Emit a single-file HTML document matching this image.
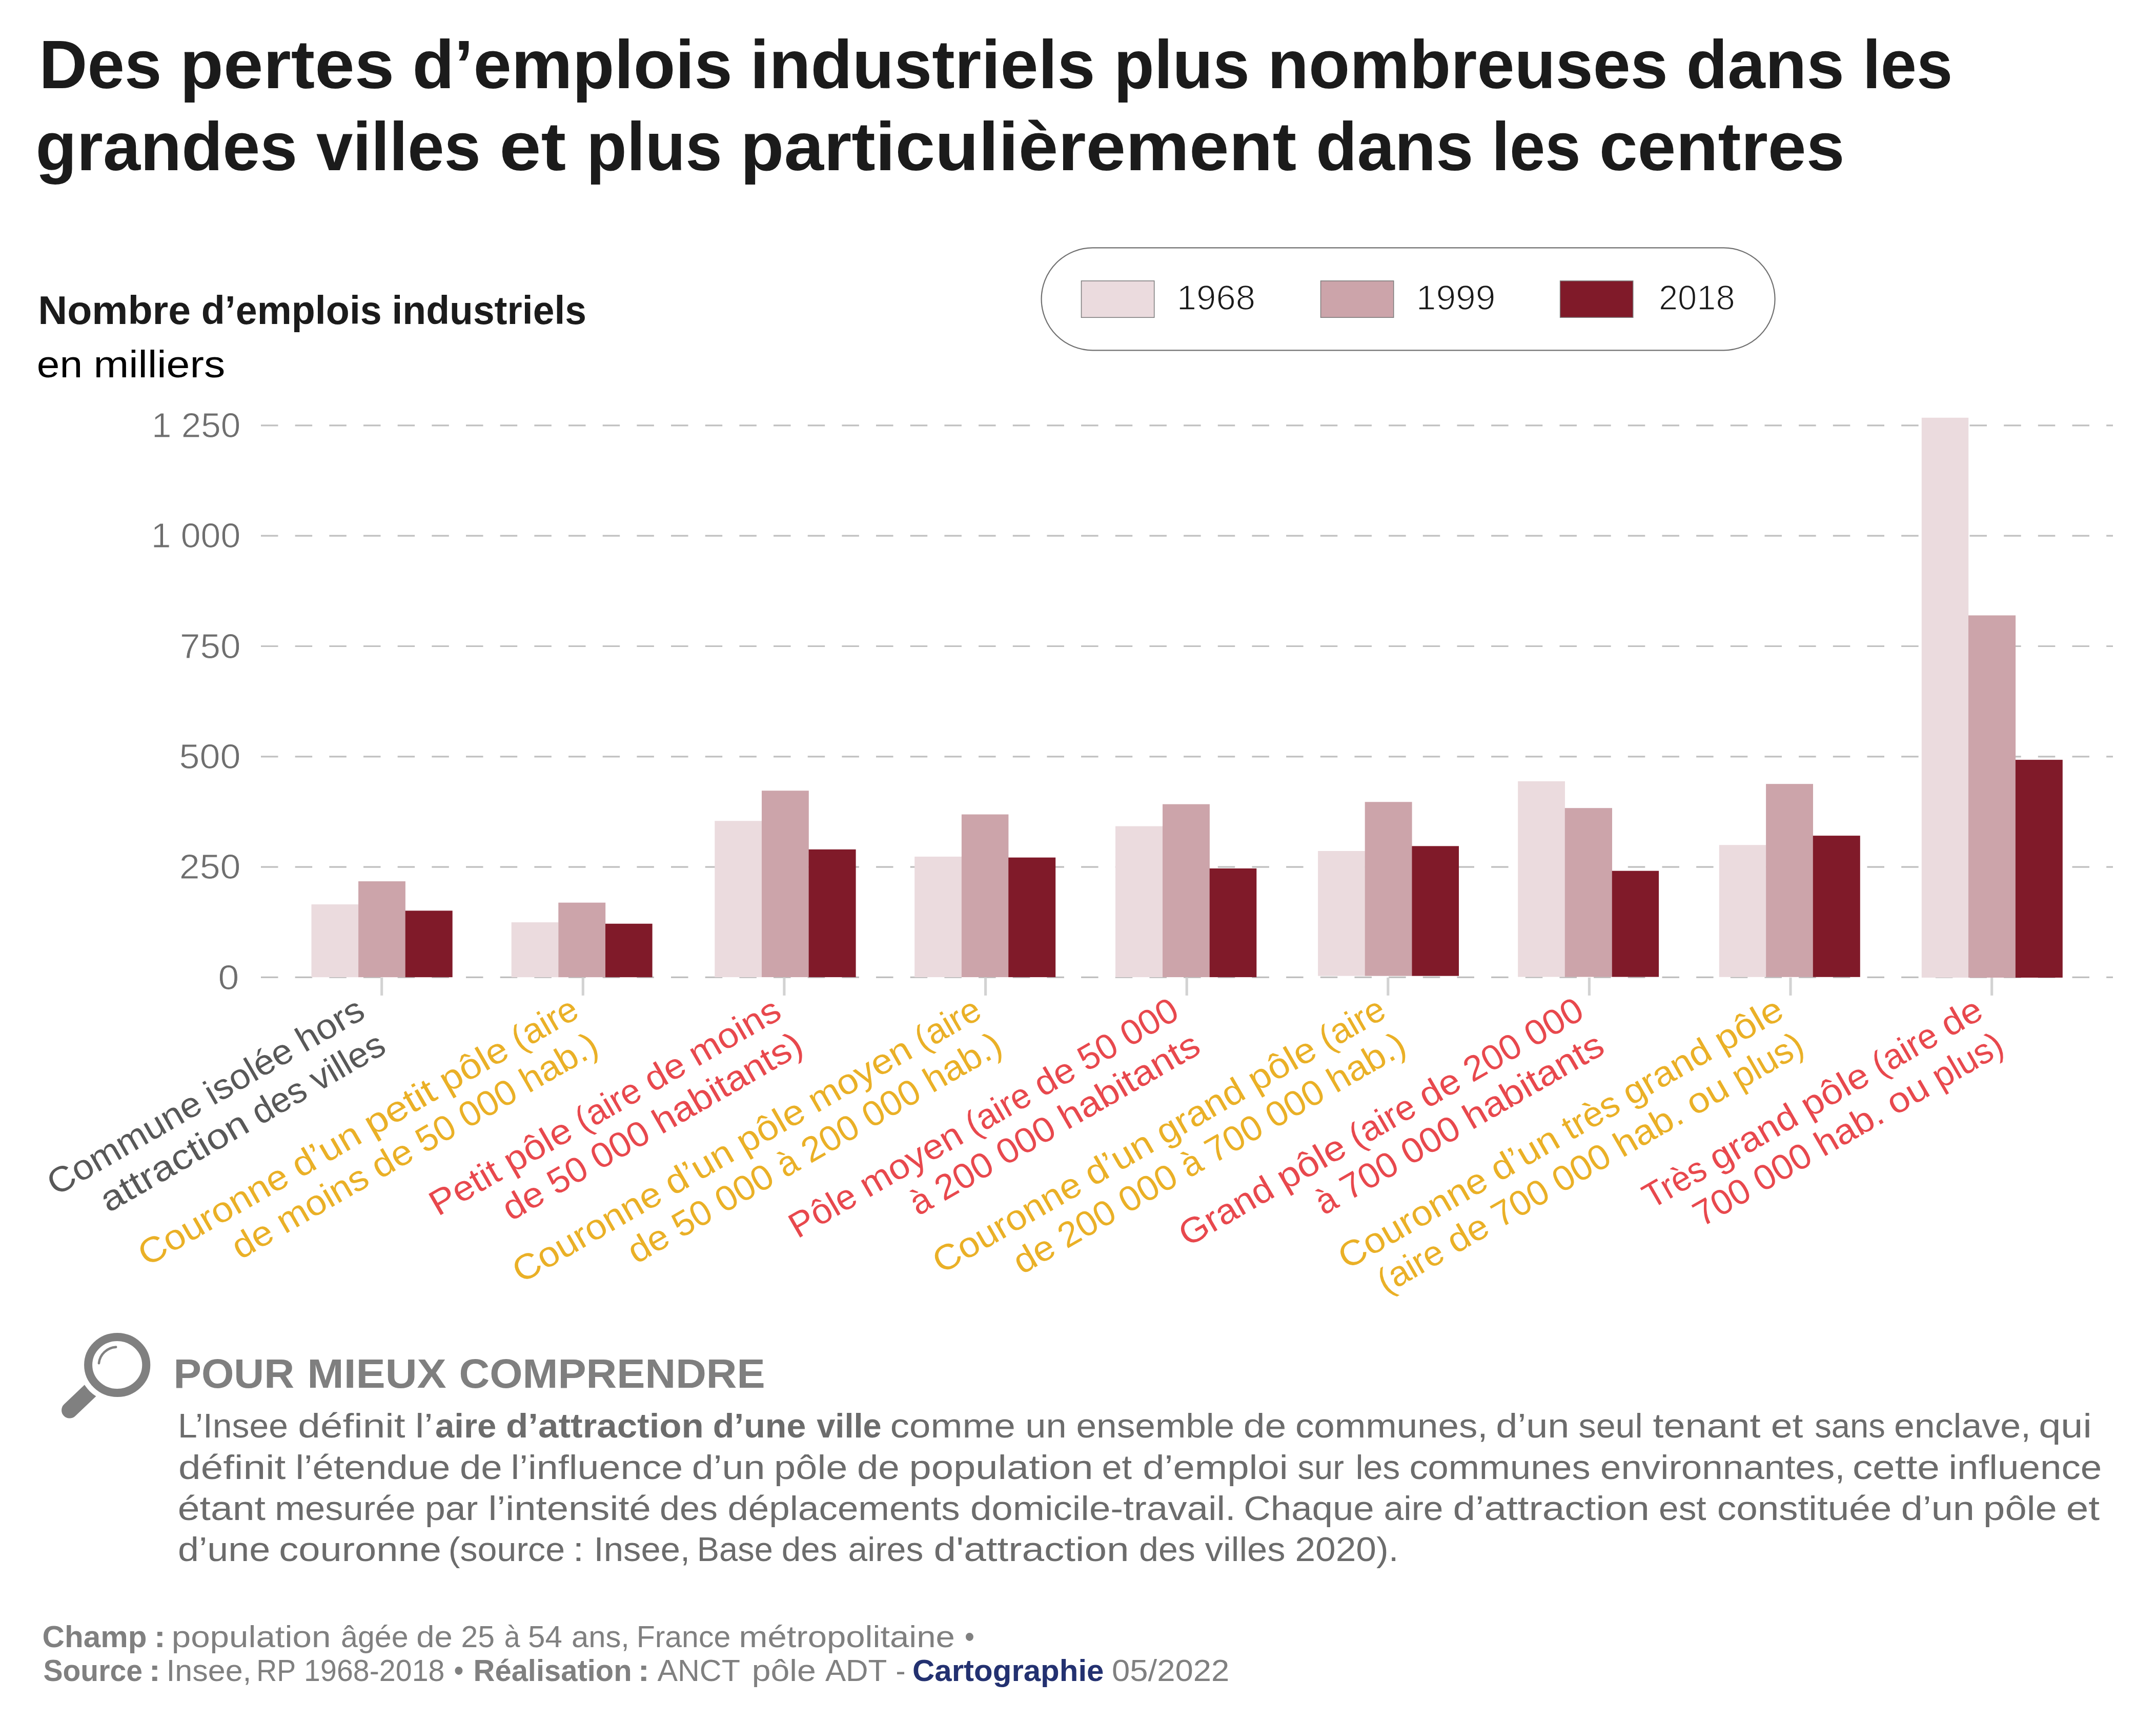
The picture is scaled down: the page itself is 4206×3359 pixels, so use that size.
<!DOCTYPE html>
<html lang="fr"><head><meta charset="utf-8"><title>Des pertes d’emplois industriels</title>
<style>
html,body{margin:0;padding:0;background:#fff;}
body{width:4206px;height:3359px;overflow:hidden;position:relative;font-family:"Liberation Sans", sans-serif;}
svg{position:absolute;left:0;top:0;}
svg text{font-family:"Liberation Sans", sans-serif;white-space:pre;}
</style></head><body>
<svg width="4206" height="3359" viewBox="0 0 4206 3359">
<rect width="4206" height="3359" fill="#ffffff"/>
<line x1="509.0" x2="4122.0" y1="1906.40" y2="1906.40" stroke="#c0c0c0" stroke-width="3.2" stroke-dasharray="33.5 33.17"/>
<line x1="509.0" x2="4122.0" y1="1691.10" y2="1691.10" stroke="#c0c0c0" stroke-width="3.2" stroke-dasharray="33.5 33.17"/>
<line x1="509.0" x2="4122.0" y1="1475.80" y2="1475.80" stroke="#c0c0c0" stroke-width="3.2" stroke-dasharray="33.5 33.17"/>
<line x1="509.0" x2="4122.0" y1="1260.50" y2="1260.50" stroke="#c0c0c0" stroke-width="3.2" stroke-dasharray="33.5 33.17"/>
<line x1="509.0" x2="4122.0" y1="1045.20" y2="1045.20" stroke="#c0c0c0" stroke-width="3.2" stroke-dasharray="33.5 33.17"/>
<line x1="509.0" x2="4122.0" y1="829.90" y2="829.90" stroke="#c0c0c0" stroke-width="3.2" stroke-dasharray="33.5 33.17"/>
<text x="425.6" y="1929.6" font-size="69" font-weight="400" fill="#6e6e6e" text-anchor="start" textLength="40.8" lengthAdjust="spacingAndGlyphs" stroke="#fff" stroke-width="0.9">0</text>
<text x="349.8" y="1714.3" font-size="69" font-weight="400" fill="#6e6e6e" text-anchor="start" textLength="119.6" lengthAdjust="spacingAndGlyphs" stroke="#fff" stroke-width="0.9">250</text>
<text x="349.6" y="1499.0" font-size="69" font-weight="400" fill="#6e6e6e" text-anchor="start" textLength="119.8" lengthAdjust="spacingAndGlyphs" stroke="#fff" stroke-width="0.9">500</text>
<text x="351.0" y="1283.7" font-size="69" font-weight="400" fill="#6e6e6e" text-anchor="start" textLength="118.4" lengthAdjust="spacingAndGlyphs" stroke="#fff" stroke-width="0.9">750</text>
<text x="294.7" y="1068.4" font-size="69" font-weight="400" fill="#6e6e6e" text-anchor="start" textLength="174.5" lengthAdjust="spacingAndGlyphs" stroke="#fff" stroke-width="0.9">1 000</text>
<text x="296.0" y="853.1" font-size="69" font-weight="400" fill="#6e6e6e" text-anchor="start" textLength="173.2" lengthAdjust="spacingAndGlyphs" stroke="#fff" stroke-width="0.9">1 250</text>
<line x1="744.7" x2="744.7" y1="1906.8" y2="1941.9" stroke="#d2d2d2" stroke-width="5.1"/>
<line x1="1137.3" x2="1137.3" y1="1906.8" y2="1941.9" stroke="#d2d2d2" stroke-width="5.1"/>
<line x1="1529.9" x2="1529.9" y1="1906.8" y2="1941.9" stroke="#d2d2d2" stroke-width="5.1"/>
<line x1="1922.6" x2="1922.6" y1="1906.8" y2="1941.9" stroke="#d2d2d2" stroke-width="5.1"/>
<line x1="2315.2" x2="2315.2" y1="1906.8" y2="1941.9" stroke="#d2d2d2" stroke-width="5.1"/>
<line x1="2707.8" x2="2707.8" y1="1906.8" y2="1941.9" stroke="#d2d2d2" stroke-width="5.1"/>
<line x1="3100.4" x2="3100.4" y1="1906.8" y2="1941.9" stroke="#d2d2d2" stroke-width="5.1"/>
<line x1="3493.0" x2="3493.0" y1="1906.8" y2="1941.9" stroke="#d2d2d2" stroke-width="5.1"/>
<line x1="3885.7" x2="3885.7" y1="1906.8" y2="1941.9" stroke="#d2d2d2" stroke-width="5.1"/>
<rect x="607.5" y="1764.1" width="91.8" height="142.1" fill="#ebdbde"/>
<rect x="699.1" y="1719.1" width="91.8" height="187.1" fill="#cca4aa"/>
<rect x="790.7" y="1776.4" width="92.0" height="129.8" fill="#801a29"/>
<rect x="997.7" y="1799.1" width="91.8" height="107.1" fill="#ebdbde"/>
<rect x="1089.3" y="1760.7" width="91.9" height="145.5" fill="#cca4aa"/>
<rect x="1181.0" y="1801.8" width="91.6" height="104.4" fill="#801a29"/>
<rect x="1394.3" y="1601.3" width="91.9" height="304.8" fill="#ebdbde"/>
<rect x="1486.0" y="1542.3" width="91.8" height="363.8" fill="#cca4aa"/>
<rect x="1577.6" y="1656.9" width="92.0" height="249.2" fill="#801a29"/>
<rect x="1784.2" y="1671.0" width="91.9" height="235.1" fill="#ebdbde"/>
<rect x="1875.9" y="1588.6" width="91.5" height="317.5" fill="#cca4aa"/>
<rect x="1967.2" y="1672.7" width="92.0" height="233.4" fill="#801a29"/>
<rect x="2176.0" y="1611.6" width="92.2" height="294.5" fill="#ebdbde"/>
<rect x="2268.0" y="1568.7" width="91.9" height="337.4" fill="#cca4aa"/>
<rect x="2359.7" y="1694.0" width="91.6" height="212.1" fill="#801a29"/>
<rect x="2571.1" y="1660.0" width="91.8" height="243.7" fill="#ebdbde"/>
<rect x="2662.7" y="1564.3" width="91.9" height="339.4" fill="#cca4aa"/>
<rect x="2754.4" y="1650.4" width="91.6" height="253.3" fill="#801a29"/>
<rect x="2961.2" y="1524.0" width="91.8" height="381.6" fill="#ebdbde"/>
<rect x="3052.8" y="1576.2" width="92.2" height="329.4" fill="#cca4aa"/>
<rect x="3144.8" y="1698.7" width="91.3" height="206.9" fill="#801a29"/>
<rect x="3353.8" y="1648.3" width="91.5" height="257.5" fill="#ebdbde"/>
<rect x="3445.1" y="1529.2" width="91.9" height="376.6" fill="#cca4aa"/>
<rect x="3536.8" y="1630.1" width="92.0" height="275.7" fill="#801a29"/>
<rect x="3748.8" y="814.8" width="91.4" height="1092.2" fill="#ebdbde"/>
<rect x="3840.0" y="1200.4" width="92.1" height="706.6" fill="#cca4aa"/>
<rect x="3931.9" y="1482.1" width="91.9" height="424.9" fill="#801a29"/>
<g transform="translate(716.1 1983.4) rotate(-30)" font-size="69" fill="#585858"><text x="-700.9" y="0" textLength="334.9" lengthAdjust="spacingAndGlyphs">Commune</text><text x="-347.0" y="0" textLength="187.4" lengthAdjust="spacingAndGlyphs">isolée</text><text x="-140.6" y="0" textLength="140.6" lengthAdjust="spacingAndGlyphs">hors</text></g>
<g transform="translate(756.8 2051.6) rotate(-30)" font-size="69" fill="#585858"><text x="-629.3" y="0" textLength="322.2" lengthAdjust="spacingAndGlyphs">attraction</text><text x="-287.9" y="0" textLength="111.5" lengthAdjust="spacingAndGlyphs">des</text><text x="-157.3" y="0" textLength="157.3" lengthAdjust="spacingAndGlyphs">villes</text></g>
<g transform="translate(1133.5 1982.4) rotate(-30)" font-size="69" fill="#eab026"><text x="-978.0" y="0" textLength="326.0" lengthAdjust="spacingAndGlyphs">Couronne</text><text x="-632.8" y="0" textLength="143.8" lengthAdjust="spacingAndGlyphs">d’un</text><text x="-469.9" y="0" textLength="150.1" lengthAdjust="spacingAndGlyphs">petit</text><text x="-300.6" y="0" textLength="143.6" lengthAdjust="spacingAndGlyphs">pôle</text><text x="-137.9" y="0" textLength="137.9" lengthAdjust="spacingAndGlyphs">(aire</text></g>
<g transform="translate(1172.2 2051.8) rotate(-30)" font-size="69" fill="#eab026"><text x="-812.3" y="0" textLength="81.5" lengthAdjust="spacingAndGlyphs">de</text><text x="-711.8" y="0" textLength="194.9" lengthAdjust="spacingAndGlyphs">moins</text><text x="-497.8" y="0" textLength="81.5" lengthAdjust="spacingAndGlyphs">de</text><text x="-397.3" y="0" textLength="77.5" lengthAdjust="spacingAndGlyphs">50</text><text x="-300.8" y="0" textLength="118.8" lengthAdjust="spacingAndGlyphs">000</text><text x="-163.0" y="0" textLength="163.0" lengthAdjust="spacingAndGlyphs">hab.)</text></g>
<g transform="translate(1528.5 1984.2) rotate(-30)" font-size="69" fill="#e8484d"><text x="-778.3" y="0" textLength="147.6" lengthAdjust="spacingAndGlyphs">Petit</text><text x="-611.7" y="0" textLength="142.3" lengthAdjust="spacingAndGlyphs">pôle</text><text x="-450.4" y="0" textLength="136.6" lengthAdjust="spacingAndGlyphs">(aire</text><text x="-294.8" y="0" textLength="81.3" lengthAdjust="spacingAndGlyphs">de</text><text x="-194.6" y="0" textLength="194.6" lengthAdjust="spacingAndGlyphs">moins</text></g>
<g transform="translate(1571.2 2051.3) rotate(-30)" font-size="69" fill="#e8484d"><text x="-663.4" y="0" textLength="82.4" lengthAdjust="spacingAndGlyphs">de</text><text x="-561.7" y="0" textLength="78.4" lengthAdjust="spacingAndGlyphs">50</text><text x="-464.0" y="0" textLength="120.2" lengthAdjust="spacingAndGlyphs">000</text><text x="-324.6" y="0" textLength="324.6" lengthAdjust="spacingAndGlyphs">habitants)</text></g>
<g transform="translate(1919.2 1983.2) rotate(-30)" font-size="69" fill="#eab026"><text x="-1042.1" y="0" textLength="323.2" lengthAdjust="spacingAndGlyphs">Couronne</text><text x="-699.9" y="0" textLength="142.5" lengthAdjust="spacingAndGlyphs">d’un</text><text x="-538.4" y="0" textLength="142.3" lengthAdjust="spacingAndGlyphs">pôle</text><text x="-377.1" y="0" textLength="221.4" lengthAdjust="spacingAndGlyphs">moyen</text><text x="-136.7" y="0" textLength="136.7" lengthAdjust="spacingAndGlyphs">(aire</text></g>
<g transform="translate(1959.9 2051.3) rotate(-30)" font-size="69" fill="#eab026"><text x="-830.2" y="0" textLength="81.7" lengthAdjust="spacingAndGlyphs">de</text><text x="-729.5" y="0" textLength="77.7" lengthAdjust="spacingAndGlyphs">50</text><text x="-632.6" y="0" textLength="119.1" lengthAdjust="spacingAndGlyphs">000</text><text x="-494.5" y="0" textLength="37.3" lengthAdjust="spacingAndGlyphs">à</text><text x="-438.1" y="0" textLength="117.4" lengthAdjust="spacingAndGlyphs">200</text><text x="-301.6" y="0" textLength="119.1" lengthAdjust="spacingAndGlyphs">000</text><text x="-163.4" y="0" textLength="163.4" lengthAdjust="spacingAndGlyphs">hab.)</text></g>
<g transform="translate(2304.5 1984.5) rotate(-30)" font-size="69" fill="#e8484d"><text x="-864.3" y="0" textLength="140.1" lengthAdjust="spacingAndGlyphs">Pôle</text><text x="-705.4" y="0" textLength="219.5" lengthAdjust="spacingAndGlyphs">moyen</text><text x="-467.0" y="0" textLength="135.5" lengthAdjust="spacingAndGlyphs">(aire</text><text x="-312.7" y="0" textLength="80.7" lengthAdjust="spacingAndGlyphs">de</text><text x="-213.2" y="0" textLength="76.8" lengthAdjust="spacingAndGlyphs">50</text><text x="-117.6" y="0" textLength="117.6" lengthAdjust="spacingAndGlyphs">000</text></g>
<g transform="translate(2346.3 2052.1) rotate(-30)" font-size="69" fill="#e8484d"><text x="-640.9" y="0" textLength="37.8" lengthAdjust="spacingAndGlyphs">à</text><text x="-583.8" y="0" textLength="119.0" lengthAdjust="spacingAndGlyphs">200</text><text x="-445.5" y="0" textLength="120.7" lengthAdjust="spacingAndGlyphs">000</text><text x="-305.5" y="0" textLength="305.5" lengthAdjust="spacingAndGlyphs">habitants</text></g>
<g transform="translate(2708.1 1982.6) rotate(-30)" font-size="69" fill="#eab026"><text x="-1006.3" y="0" textLength="322.4" lengthAdjust="spacingAndGlyphs">Couronne</text><text x="-664.9" y="0" textLength="142.2" lengthAdjust="spacingAndGlyphs">d’un</text><text x="-503.8" y="0" textLength="187.5" lengthAdjust="spacingAndGlyphs">grand</text><text x="-297.3" y="0" textLength="142.0" lengthAdjust="spacingAndGlyphs">pôle</text><text x="-136.3" y="0" textLength="136.3" lengthAdjust="spacingAndGlyphs">(aire</text></g>
<g transform="translate(2747.8 2051.3) rotate(-30)" font-size="69" fill="#eab026"><text x="-871.2" y="0" textLength="81.9" lengthAdjust="spacingAndGlyphs">de</text><text x="-770.2" y="0" textLength="117.7" lengthAdjust="spacingAndGlyphs">200</text><text x="-633.4" y="0" textLength="119.4" lengthAdjust="spacingAndGlyphs">000</text><text x="-494.9" y="0" textLength="37.4" lengthAdjust="spacingAndGlyphs">à</text><text x="-438.4" y="0" textLength="117.0" lengthAdjust="spacingAndGlyphs">700</text><text x="-302.3" y="0" textLength="119.4" lengthAdjust="spacingAndGlyphs">000</text><text x="-163.8" y="0" textLength="163.8" lengthAdjust="spacingAndGlyphs">hab.)</text></g>
<g transform="translate(3094.7 1983.8) rotate(-30)" font-size="69" fill="#e8484d"><text x="-898.4" y="0" textLength="200.6" lengthAdjust="spacingAndGlyphs">Grand</text><text x="-678.5" y="0" textLength="143.8" lengthAdjust="spacingAndGlyphs">pôle</text><text x="-515.6" y="0" textLength="138.0" lengthAdjust="spacingAndGlyphs">(aire</text><text x="-358.4" y="0" textLength="82.2" lengthAdjust="spacingAndGlyphs">de</text><text x="-257.1" y="0" textLength="118.1" lengthAdjust="spacingAndGlyphs">200</text><text x="-119.8" y="0" textLength="119.8" lengthAdjust="spacingAndGlyphs">000</text></g>
<g transform="translate(3134.4 2052.6) rotate(-30)" font-size="69" fill="#e8484d"><text x="-637.4" y="0" textLength="37.6" lengthAdjust="spacingAndGlyphs">à</text><text x="-580.5" y="0" textLength="117.8" lengthAdjust="spacingAndGlyphs">700</text><text x="-443.5" y="0" textLength="120.1" lengthAdjust="spacingAndGlyphs">000</text><text x="-304.1" y="0" textLength="304.1" lengthAdjust="spacingAndGlyphs">habitants</text></g>
<g transform="translate(3484.2 1982.9) rotate(-30)" font-size="69" fill="#eab026"><text x="-989.0" y="0" textLength="323.2" lengthAdjust="spacingAndGlyphs">Couronne</text><text x="-646.8" y="0" textLength="142.5" lengthAdjust="spacingAndGlyphs">d’un</text><text x="-485.2" y="0" textLength="117.0" lengthAdjust="spacingAndGlyphs">très</text><text x="-349.3" y="0" textLength="188.0" lengthAdjust="spacingAndGlyphs">grand</text><text x="-142.3" y="0" textLength="142.3" lengthAdjust="spacingAndGlyphs">pôle</text></g>
<g transform="translate(3523.9 2051.6) rotate(-30)" font-size="69" fill="#eab026"><text x="-946.9" y="0" textLength="137.5" lengthAdjust="spacingAndGlyphs">(aire</text><text x="-790.2" y="0" textLength="81.9" lengthAdjust="spacingAndGlyphs">de</text><text x="-689.2" y="0" textLength="117.0" lengthAdjust="spacingAndGlyphs">700</text><text x="-553.1" y="0" textLength="119.4" lengthAdjust="spacingAndGlyphs">000</text><text x="-414.6" y="0" textLength="143.5" lengthAdjust="spacingAndGlyphs">hab.</text><text x="-252.0" y="0" textLength="84.0" lengthAdjust="spacingAndGlyphs">ou</text><text x="-148.8" y="0" textLength="148.8" lengthAdjust="spacingAndGlyphs">plus)</text></g>
<g transform="translate(3873.0 1983.4) rotate(-30)" font-size="69" fill="#e8484d"><text x="-751.7" y="0" textLength="130.0" lengthAdjust="spacingAndGlyphs">Très</text><text x="-602.8" y="0" textLength="187.2" lengthAdjust="spacingAndGlyphs">grand</text><text x="-396.7" y="0" textLength="141.8" lengthAdjust="spacingAndGlyphs">pôle</text><text x="-236.0" y="0" textLength="136.1" lengthAdjust="spacingAndGlyphs">(aire</text><text x="-81.0" y="0" textLength="81.0" lengthAdjust="spacingAndGlyphs">de</text></g>
<g transform="translate(3913.8 2051.5) rotate(-30)" font-size="69" fill="#e8484d"><text x="-685.3" y="0" textLength="116.4" lengthAdjust="spacingAndGlyphs">700</text><text x="-550.0" y="0" textLength="118.7" lengthAdjust="spacingAndGlyphs">000</text><text x="-412.2" y="0" textLength="142.7" lengthAdjust="spacingAndGlyphs">hab.</text><text x="-250.5" y="0" textLength="83.6" lengthAdjust="spacingAndGlyphs">ou</text><text x="-147.9" y="0" textLength="147.9" lengthAdjust="spacingAndGlyphs">plus)</text></g>
<rect x="2031.6" y="483.4" width="1431" height="199.9" rx="99.95" ry="99.95" fill="#fff" stroke="#707070" stroke-width="2.2"/>
<rect x="2109.5" y="547.9" width="142.2" height="71.4" fill="#ebdbde" stroke="#7a7a7a" stroke-width="1.5"/>
<text x="2295.8" y="603.6" font-size="69" font-weight="400" fill="#1a1a1a" text-anchor="start" textLength="153.2" lengthAdjust="spacingAndGlyphs" stroke="#fff" stroke-width="1.6">1968</text>
<rect x="2576.5" y="547.9" width="142.2" height="71.4" fill="#cca4aa" stroke="#7a7a7a" stroke-width="1.5"/>
<text x="2762.7" y="603.6" font-size="69" font-weight="400" fill="#1a1a1a" text-anchor="start" textLength="154.8" lengthAdjust="spacingAndGlyphs" stroke="#fff" stroke-width="1.6">1999</text>
<rect x="3043.6" y="547.9" width="142.2" height="71.4" fill="#801a29" stroke="#7a7a7a" stroke-width="1.5"/>
<text x="3235.9" y="603.6" font-size="69" font-weight="400" fill="#1a1a1a" text-anchor="start" textLength="148.9" lengthAdjust="spacingAndGlyphs" stroke="#fff" stroke-width="1.6">2018</text>
<g stroke="#808080" fill="none"><path d="M135.9 2750.8 L228.7 2662.5" stroke-width="31.6" stroke-linecap="round"/><ellipse cx="228.7" cy="2662.5" rx="75.3" ry="73.1" fill="#fff" stroke="none"/><ellipse cx="228.7" cy="2662.5" rx="56.6" ry="54.55" stroke-width="16"/><path d="M192.9 2659.3 A35.6 35.2 0 0 1 226.2 2627.6" stroke-width="4.6" stroke-linecap="round"/></g>
<text x="76.3" y="171.5" font-size="134" font-weight="700" fill="#1b1b1b" text-anchor="start" textLength="239.1" lengthAdjust="spacingAndGlyphs">Des</text>
<text x="350.8" y="171.5" font-size="134" font-weight="700" fill="#1b1b1b" text-anchor="start" textLength="418.4" lengthAdjust="spacingAndGlyphs">pertes</text>
<text x="804.5" y="171.5" font-size="134" font-weight="700" fill="#1b1b1b" text-anchor="start" textLength="624.5" lengthAdjust="spacingAndGlyphs">d’emplois</text>
<text x="1463.2" y="171.5" font-size="134" font-weight="700" fill="#1b1b1b" text-anchor="start" textLength="673.3" lengthAdjust="spacingAndGlyphs">industriels</text>
<text x="2173.0" y="171.5" font-size="134" font-weight="700" fill="#1b1b1b" text-anchor="start" textLength="264.8" lengthAdjust="spacingAndGlyphs">plus</text>
<text x="2472.8" y="171.5" font-size="134" font-weight="700" fill="#1b1b1b" text-anchor="start" textLength="781.0" lengthAdjust="spacingAndGlyphs">nombreuses</text>
<text x="3289.6" y="171.5" font-size="134" font-weight="700" fill="#1b1b1b" text-anchor="start" textLength="308.3" lengthAdjust="spacingAndGlyphs">dans</text>
<text x="3633.7" y="171.5" font-size="134" font-weight="700" fill="#1b1b1b" text-anchor="start" textLength="175.5" lengthAdjust="spacingAndGlyphs">les</text>
<text x="69.6" y="331.5" font-size="134" font-weight="700" fill="#1b1b1b" text-anchor="start" textLength="510.8" lengthAdjust="spacingAndGlyphs">grandes</text>
<text x="617.0" y="331.5" font-size="134" font-weight="700" fill="#1b1b1b" text-anchor="start" textLength="320.8" lengthAdjust="spacingAndGlyphs">villes</text>
<text x="974.3" y="331.5" font-size="134" font-weight="700" fill="#1b1b1b" text-anchor="start" textLength="130.0" lengthAdjust="spacingAndGlyphs">et</text>
<text x="1144.0" y="331.5" font-size="134" font-weight="700" fill="#1b1b1b" text-anchor="start" textLength="264.8" lengthAdjust="spacingAndGlyphs">plus</text>
<text x="1444.3" y="331.5" font-size="134" font-weight="700" fill="#1b1b1b" text-anchor="start" textLength="1084.9" lengthAdjust="spacingAndGlyphs">particulièrement</text>
<text x="2567.1" y="331.5" font-size="134" font-weight="700" fill="#1b1b1b" text-anchor="start" textLength="307.3" lengthAdjust="spacingAndGlyphs">dans</text>
<text x="2910.3" y="331.5" font-size="134" font-weight="700" fill="#1b1b1b" text-anchor="start" textLength="173.3" lengthAdjust="spacingAndGlyphs">les</text>
<text x="3119.7" y="331.5" font-size="134" font-weight="700" fill="#1b1b1b" text-anchor="start" textLength="478.8" lengthAdjust="spacingAndGlyphs">centres</text>
<text x="74.2" y="631.8" font-size="77.3" font-weight="700" fill="#1b1b1b" text-anchor="start" textLength="298.0" lengthAdjust="spacingAndGlyphs">Nombre</text>
<text x="392.8" y="631.8" font-size="77.3" font-weight="700" fill="#1b1b1b" text-anchor="start" textLength="352.0" lengthAdjust="spacingAndGlyphs">d’emplois</text>
<text x="764.5" y="631.8" font-size="77.3" font-weight="700" fill="#1b1b1b" text-anchor="start" textLength="379.5" lengthAdjust="spacingAndGlyphs">industriels</text>
<text x="71.8" y="735.7" font-size="75" font-weight="400" fill="#000" text-anchor="start" textLength="89.3" lengthAdjust="spacingAndGlyphs">en</text>
<text x="182.5" y="735.7" font-size="75" font-weight="400" fill="#000" text-anchor="start" textLength="256.8" lengthAdjust="spacingAndGlyphs">milliers</text>
<text x="338.5" y="2707.3" font-size="80" font-weight="700" fill="#7f7f7f" text-anchor="start" textLength="235.6" lengthAdjust="spacingAndGlyphs">POUR</text>
<text x="599.3" y="2707.3" font-size="80" font-weight="700" fill="#7f7f7f" text-anchor="start" textLength="271.5" lengthAdjust="spacingAndGlyphs">MIEUX</text>
<text x="895.6" y="2707.3" font-size="80" font-weight="700" fill="#7f7f7f" text-anchor="start" textLength="597.1" lengthAdjust="spacingAndGlyphs">COMPRENDRE</text>
<text x="347.0" y="2804.4" font-size="67" font-weight="400" fill="#6c6c6c" text-anchor="start" textLength="214.9" lengthAdjust="spacingAndGlyphs">L’Insee</text>
<text x="581.3" y="2804.4" font-size="67" font-weight="400" fill="#6c6c6c" text-anchor="start" textLength="209.2" lengthAdjust="spacingAndGlyphs">définit</text>
<text x="809.9" y="2804.4" font-size="67" font-weight="400" fill="#6c6c6c" text-anchor="start" textLength="34.8" lengthAdjust="spacingAndGlyphs">l’</text>
<text x="849.0" y="2804.4" font-size="67" font-weight="700" fill="#6c6c6c" text-anchor="start" textLength="119.3" lengthAdjust="spacingAndGlyphs">aire</text>
<text x="987.1" y="2804.4" font-size="67" font-weight="700" fill="#6c6c6c" text-anchor="start" textLength="385.8" lengthAdjust="spacingAndGlyphs">d’attraction</text>
<text x="1390.7" y="2804.4" font-size="67" font-weight="700" fill="#6c6c6c" text-anchor="start" textLength="181.6" lengthAdjust="spacingAndGlyphs">d’une</text>
<text x="1593.2" y="2804.4" font-size="67" font-weight="700" fill="#6c6c6c" text-anchor="start" textLength="126.5" lengthAdjust="spacingAndGlyphs">ville</text>
<text x="1736.8" y="2804.4" font-size="67" font-weight="400" fill="#6c6c6c" text-anchor="start" textLength="244.0" lengthAdjust="spacingAndGlyphs">comme</text>
<text x="2000.3" y="2804.4" font-size="67" font-weight="400" fill="#6c6c6c" text-anchor="start" textLength="80.4" lengthAdjust="spacingAndGlyphs">un</text>
<text x="2099.5" y="2804.4" font-size="67" font-weight="400" fill="#6c6c6c" text-anchor="start" textLength="308.7" lengthAdjust="spacingAndGlyphs">ensemble</text>
<text x="2425.8" y="2804.4" font-size="67" font-weight="400" fill="#6c6c6c" text-anchor="start" textLength="83.5" lengthAdjust="spacingAndGlyphs">de</text>
<text x="2526.9" y="2804.4" font-size="67" font-weight="400" fill="#6c6c6c" text-anchor="start" textLength="375.6" lengthAdjust="spacingAndGlyphs">communes,</text>
<text x="2918.3" y="2804.4" font-size="67" font-weight="400" fill="#6c6c6c" text-anchor="start" textLength="143.1" lengthAdjust="spacingAndGlyphs">d’un</text>
<text x="3079.6" y="2804.4" font-size="67" font-weight="400" fill="#6c6c6c" text-anchor="start" textLength="125.0" lengthAdjust="spacingAndGlyphs">seul</text>
<text x="3224.4" y="2804.4" font-size="67" font-weight="400" fill="#6c6c6c" text-anchor="start" textLength="210.2" lengthAdjust="spacingAndGlyphs">tenant</text>
<text x="3454.8" y="2804.4" font-size="67" font-weight="400" fill="#6c6c6c" text-anchor="start" textLength="62.7" lengthAdjust="spacingAndGlyphs">et</text>
<text x="3540.2" y="2804.4" font-size="67" font-weight="400" fill="#6c6c6c" text-anchor="start" textLength="137.7" lengthAdjust="spacingAndGlyphs">sans</text>
<text x="3695.0" y="2804.4" font-size="67" font-weight="400" fill="#6c6c6c" text-anchor="start" textLength="267.0" lengthAdjust="spacingAndGlyphs">enclave,</text>
<text x="3977.2" y="2804.4" font-size="67" font-weight="400" fill="#6c6c6c" text-anchor="start" textLength="103.5" lengthAdjust="spacingAndGlyphs">qui</text>
<text x="348.1" y="2884.7" font-size="67" font-weight="400" fill="#6c6c6c" text-anchor="start" textLength="209.2" lengthAdjust="spacingAndGlyphs">définit</text>
<text x="576.5" y="2884.7" font-size="67" font-weight="400" fill="#6c6c6c" text-anchor="start" textLength="301.8" lengthAdjust="spacingAndGlyphs">l’étendue</text>
<text x="896.9" y="2884.7" font-size="67" font-weight="400" fill="#6c6c6c" text-anchor="start" textLength="82.9" lengthAdjust="spacingAndGlyphs">de</text>
<text x="996.4" y="2884.7" font-size="67" font-weight="400" fill="#6c6c6c" text-anchor="start" textLength="335.9" lengthAdjust="spacingAndGlyphs">l’influence</text>
<text x="1349.8" y="2884.7" font-size="67" font-weight="400" fill="#6c6c6c" text-anchor="start" textLength="142.6" lengthAdjust="spacingAndGlyphs">d’un</text>
<text x="1510.1" y="2884.7" font-size="67" font-weight="400" fill="#6c6c6c" text-anchor="start" textLength="143.3" lengthAdjust="spacingAndGlyphs">pôle</text>
<text x="1671.9" y="2884.7" font-size="67" font-weight="400" fill="#6c6c6c" text-anchor="start" textLength="82.9" lengthAdjust="spacingAndGlyphs">de</text>
<text x="1773.5" y="2884.7" font-size="67" font-weight="400" fill="#6c6c6c" text-anchor="start" textLength="359.1" lengthAdjust="spacingAndGlyphs">population</text>
<text x="2149.5" y="2884.7" font-size="67" font-weight="400" fill="#6c6c6c" text-anchor="start" textLength="58.5" lengthAdjust="spacingAndGlyphs">et</text>
<text x="2229.3" y="2884.7" font-size="67" font-weight="400" fill="#6c6c6c" text-anchor="start" textLength="283.3" lengthAdjust="spacingAndGlyphs">d’emploi</text>
<text x="2531.5" y="2884.7" font-size="67" font-weight="400" fill="#6c6c6c" text-anchor="start" textLength="90.3" lengthAdjust="spacingAndGlyphs">sur</text>
<text x="2644.4" y="2884.7" font-size="67" font-weight="400" fill="#6c6c6c" text-anchor="start" textLength="87.0" lengthAdjust="spacingAndGlyphs">les</text>
<text x="2749.4" y="2884.7" font-size="67" font-weight="400" fill="#6c6c6c" text-anchor="start" textLength="353.2" lengthAdjust="spacingAndGlyphs">communes</text>
<text x="3121.9" y="2884.7" font-size="67" font-weight="400" fill="#6c6c6c" text-anchor="start" textLength="477.6" lengthAdjust="spacingAndGlyphs">environnantes,</text>
<text x="3613.9" y="2884.7" font-size="67" font-weight="400" fill="#6c6c6c" text-anchor="start" textLength="169.9" lengthAdjust="spacingAndGlyphs">cette</text>
<text x="3801.5" y="2884.7" font-size="67" font-weight="400" fill="#6c6c6c" text-anchor="start" textLength="298.8" lengthAdjust="spacingAndGlyphs">influence</text>
<text x="346.7" y="2965.0" font-size="67" font-weight="400" fill="#6c6c6c" text-anchor="start" textLength="171.3" lengthAdjust="spacingAndGlyphs">étant</text>
<text x="536.3" y="2965.0" font-size="67" font-weight="400" fill="#6c6c6c" text-anchor="start" textLength="274.3" lengthAdjust="spacingAndGlyphs">mesurée</text>
<text x="828.9" y="2965.0" font-size="67" font-weight="400" fill="#6c6c6c" text-anchor="start" textLength="103.3" lengthAdjust="spacingAndGlyphs">par</text>
<text x="952.4" y="2965.0" font-size="67" font-weight="400" fill="#6c6c6c" text-anchor="start" textLength="317.5" lengthAdjust="spacingAndGlyphs">l’intensité</text>
<text x="1287.1" y="2965.0" font-size="67" font-weight="400" fill="#6c6c6c" text-anchor="start" textLength="113.0" lengthAdjust="spacingAndGlyphs">des</text>
<text x="1419.4" y="2965.0" font-size="67" font-weight="400" fill="#6c6c6c" text-anchor="start" textLength="453.2" lengthAdjust="spacingAndGlyphs">déplacements</text>
<text x="1892.9" y="2965.0" font-size="67" font-weight="400" fill="#6c6c6c" text-anchor="start" textLength="517.9" lengthAdjust="spacingAndGlyphs">domicile-travail.</text>
<text x="2426.3" y="2965.0" font-size="67" font-weight="400" fill="#6c6c6c" text-anchor="start" textLength="254.4" lengthAdjust="spacingAndGlyphs">Chaque</text>
<text x="2699.5" y="2965.0" font-size="67" font-weight="400" fill="#6c6c6c" text-anchor="start" textLength="116.0" lengthAdjust="spacingAndGlyphs">aire</text>
<text x="2834.4" y="2965.0" font-size="67" font-weight="400" fill="#6c6c6c" text-anchor="start" textLength="383.5" lengthAdjust="spacingAndGlyphs">d’attraction</text>
<text x="3236.1" y="2965.0" font-size="67" font-weight="400" fill="#6c6c6c" text-anchor="start" textLength="92.5" lengthAdjust="spacingAndGlyphs">est</text>
<text x="3349.8" y="2965.0" font-size="67" font-weight="400" fill="#6c6c6c" text-anchor="start" textLength="340.5" lengthAdjust="spacingAndGlyphs">constituée</text>
<text x="3708.8" y="2965.0" font-size="67" font-weight="400" fill="#6c6c6c" text-anchor="start" textLength="143.1" lengthAdjust="spacingAndGlyphs">d’un</text>
<text x="3869.1" y="2965.0" font-size="67" font-weight="400" fill="#6c6c6c" text-anchor="start" textLength="143.8" lengthAdjust="spacingAndGlyphs">pôle</text>
<text x="4030.7" y="2965.0" font-size="67" font-weight="400" fill="#6c6c6c" text-anchor="start" textLength="65.4" lengthAdjust="spacingAndGlyphs">et</text>
<text x="346.9" y="3045.4" font-size="67" font-weight="400" fill="#6c6c6c" text-anchor="start" textLength="180.4" lengthAdjust="spacingAndGlyphs">d’une</text>
<text x="544.3" y="3045.4" font-size="67" font-weight="400" fill="#6c6c6c" text-anchor="start" textLength="316.6" lengthAdjust="spacingAndGlyphs">couronne</text>
<text x="874.8" y="3045.4" font-size="67" font-weight="400" fill="#6c6c6c" text-anchor="start" textLength="227.3" lengthAdjust="spacingAndGlyphs">(source</text>
<text x="1117.4" y="3045.4" font-size="67" font-weight="400" fill="#6c6c6c" text-anchor="start" textLength="21.8" lengthAdjust="spacingAndGlyphs">:</text>
<text x="1158.6" y="3045.4" font-size="67" font-weight="400" fill="#6c6c6c" text-anchor="start" textLength="187.5" lengthAdjust="spacingAndGlyphs">Insee,</text>
<text x="1359.7" y="3045.4" font-size="67" font-weight="400" fill="#6c6c6c" text-anchor="start" textLength="148.1" lengthAdjust="spacingAndGlyphs">Base</text>
<text x="1524.7" y="3045.4" font-size="67" font-weight="400" fill="#6c6c6c" text-anchor="start" textLength="108.8" lengthAdjust="spacingAndGlyphs">des</text>
<text x="1654.6" y="3045.4" font-size="67" font-weight="400" fill="#6c6c6c" text-anchor="start" textLength="146.8" lengthAdjust="spacingAndGlyphs">aires</text>
<text x="1821.6" y="3045.4" font-size="67" font-weight="400" fill="#6c6c6c" text-anchor="start" textLength="381.0" lengthAdjust="spacingAndGlyphs">d'attraction</text>
<text x="2222.1" y="3045.4" font-size="67" font-weight="400" fill="#6c6c6c" text-anchor="start" textLength="109.8" lengthAdjust="spacingAndGlyphs">des</text>
<text x="2350.8" y="3045.4" font-size="67" font-weight="400" fill="#6c6c6c" text-anchor="start" textLength="156.8" lengthAdjust="spacingAndGlyphs">villes</text>
<text x="2526.4" y="3045.4" font-size="67" font-weight="400" fill="#6c6c6c" text-anchor="start" textLength="202.1" lengthAdjust="spacingAndGlyphs">2020).</text>
<text x="82.5" y="3212.5" font-size="59.5" font-weight="700" fill="#808080" text-anchor="start" textLength="203.9" lengthAdjust="spacingAndGlyphs">Champ</text>
<text x="300.5" y="3212.5" font-size="59.5" font-weight="700" fill="#808080" text-anchor="start" textLength="22.6" lengthAdjust="spacingAndGlyphs">:</text>
<text x="334.7" y="3212.5" font-size="59.5" font-weight="400" fill="#808080" text-anchor="start" textLength="310.7" lengthAdjust="spacingAndGlyphs">population</text>
<text x="665.0" y="3212.5" font-size="59.5" font-weight="400" fill="#808080" text-anchor="start" textLength="131.6" lengthAdjust="spacingAndGlyphs">âgée</text>
<text x="812.3" y="3212.5" font-size="59.5" font-weight="400" fill="#808080" text-anchor="start" textLength="70.5" lengthAdjust="spacingAndGlyphs">de</text>
<text x="899.5" y="3212.5" font-size="59.5" font-weight="400" fill="#808080" text-anchor="start" textLength="65.4" lengthAdjust="spacingAndGlyphs">25</text>
<text x="983.7" y="3212.5" font-size="59.5" font-weight="400" fill="#808080" text-anchor="start" textLength="30.8" lengthAdjust="spacingAndGlyphs">à</text>
<text x="1030.1" y="3212.5" font-size="59.5" font-weight="400" fill="#808080" text-anchor="start" textLength="66.7" lengthAdjust="spacingAndGlyphs">54</text>
<text x="1115.0" y="3212.5" font-size="59.5" font-weight="400" fill="#808080" text-anchor="start" textLength="112.9" lengthAdjust="spacingAndGlyphs">ans,</text>
<text x="1241.7" y="3212.5" font-size="59.5" font-weight="400" fill="#808080" text-anchor="start" textLength="183.5" lengthAdjust="spacingAndGlyphs">France</text>
<text x="1441.5" y="3212.5" font-size="59.5" font-weight="400" fill="#808080" text-anchor="start" textLength="421.4" lengthAdjust="spacingAndGlyphs">métropolitaine</text>
<text x="1881.8" y="3212.5" font-size="59.5" font-weight="400" fill="#808080" text-anchor="start" textLength="19.4" lengthAdjust="spacingAndGlyphs">•</text>
<text x="84.4" y="3279.0" font-size="59.5" font-weight="700" fill="#808080" text-anchor="start" textLength="193.6" lengthAdjust="spacingAndGlyphs">Source</text>
<text x="290.5" y="3279.0" font-size="59.5" font-weight="700" fill="#808080" text-anchor="start" textLength="22.6" lengthAdjust="spacingAndGlyphs">:</text>
<text x="324.4" y="3279.0" font-size="59.5" font-weight="400" fill="#808080" text-anchor="start" textLength="166.1" lengthAdjust="spacingAndGlyphs">Insee,</text>
<text x="500.3" y="3279.0" font-size="59.5" font-weight="400" fill="#808080" text-anchor="start" textLength="76.9" lengthAdjust="spacingAndGlyphs">RP</text>
<text x="593.1" y="3279.0" font-size="59.5" font-weight="400" fill="#808080" text-anchor="start" textLength="274.4" lengthAdjust="spacingAndGlyphs">1968-2018</text>
<text x="885.3" y="3279.0" font-size="59.5" font-weight="400" fill="#808080" text-anchor="start" textLength="19.4" lengthAdjust="spacingAndGlyphs">•</text>
<text x="923.6" y="3279.0" font-size="59.5" font-weight="700" fill="#808080" text-anchor="start" textLength="309.0" lengthAdjust="spacingAndGlyphs">Réalisation</text>
<text x="1244.5" y="3279.0" font-size="59.5" font-weight="700" fill="#808080" text-anchor="start" textLength="22.6" lengthAdjust="spacingAndGlyphs">:</text>
<text x="1282.4" y="3279.0" font-size="59.5" font-weight="400" fill="#808080" text-anchor="start" textLength="161.5" lengthAdjust="spacingAndGlyphs">ANCT</text>
<text x="1466.7" y="3279.0" font-size="59.5" font-weight="400" fill="#808080" text-anchor="start" textLength="125.2" lengthAdjust="spacingAndGlyphs">pôle</text>
<text x="1609.9" y="3279.0" font-size="59.5" font-weight="400" fill="#808080" text-anchor="start" textLength="120.5" lengthAdjust="spacingAndGlyphs">ADT</text>
<text x="1747.5" y="3279.0" font-size="59.5" font-weight="400" fill="#808080" text-anchor="start" textLength="19.1" lengthAdjust="spacingAndGlyphs">-</text>
<text x="1780.0" y="3279.0" font-size="59.5" font-weight="700" fill="#233170" text-anchor="start" textLength="373.5" lengthAdjust="spacingAndGlyphs">Cartographie</text>
<text x="2169.0" y="3279.0" font-size="59.5" font-weight="400" fill="#808080" text-anchor="start" textLength="229.2" lengthAdjust="spacingAndGlyphs">05/2022</text>
</svg>
</body></html>
